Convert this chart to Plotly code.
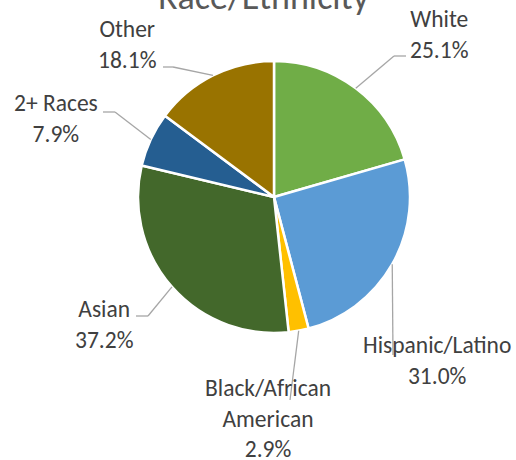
import math
import plotly.graph_objects as go

# Survey breakdown by race/ethnicity (values as reported, in %)
categories = ["White", "Hispanic/Latino", "Black/African American", "Asian", "2+ Races", "Other"]
shares = [25.1, 31.0, 2.9, 37.2, 7.9, 18.1]
label_text = ["White", "Hispanic/Latino", "Black/African<br>American", "Asian", "2+ Races", "Other"]
colors = ["#70AD47", "#5B9BD5", "#FFC000", "#43682B", "#255E91", "#997300"]

W, H = 516, 460
CX, CY, R = 274, 197, 136          # pie centre and radius in pixels
FONT = "Calibri, Carlito, Lato, sans-serif"

# label block centres (px) and the leader-line route from the slice edge to the label
label_layout = {
    "White":                  {"center": (439, 34),  "route": [(394, 56), (406, 56)]},
    "Hispanic/Latino":        {"center": (437, 360), "route": [(393, 355)]},
    "Black/African American": {"center": (268, 418), "route": [(290, 400)]},
    "Asian":                  {"center": (104, 324), "route": [(148, 316), (136, 316)]},
    "2+ Races":               {"center": (56, 119),  "route": [(115, 112), (103, 112)]},
    "Other":                  {"center": (127, 45),  "route": [(173, 67), (163, 67)]},
}


def px(x, y):
    return x / W, 1 - y / H


fig = go.Figure(
    go.Pie(
        labels=categories,
        values=shares,
        sort=False,
        direction="clockwise",
        rotation=0,
        marker=dict(colors=colors, line=dict(color="white", width=2.5)),
        textinfo="none",
        hoverinfo="label+text",
        hovertext=[f"{v:.1f}%" for v in shares],
        showlegend=False,
        domain=dict(x=[(CX - R) / W, (CX + R) / W], y=[1 - (CY + R) / H, 1 - (CY - R) / H]),
    )
)

annotations = []
shapes = []
total = sum(shares)
start = 0.0
for name, text, v in zip(categories, label_text, shares):
    sweep = v / total * 360
    mid = math.radians(start + sweep / 2)
    start += sweep
    anchor = (CX + R * math.sin(mid), CY - R * math.cos(mid))
    lay = label_layout[name]
    pts = [anchor] + lay["route"]
    for (x0, y0), (x1, y1) in zip(pts[:-1], pts[1:]):
        a0, b0 = px(x0, y0)
        a1, b1 = px(x1, y1)
        shapes.append(dict(type="line", xref="paper", yref="paper", x0=a0, y0=b0, x1=a1, y1=b1,
                           line=dict(color="#A6A6A6", width=1.3), layer="above"))
    ax, ay = px(*lay["center"])
    annotations.append(dict(
        x=ax, y=ay, xref="paper", yref="paper", xanchor="center", yanchor="middle",
        text=f"{text}<br>{v:.1f}%", showarrow=False, align="center", borderpad=0,
        font=dict(family=FONT, size=23.5, color="#404040"),
    ))

tx, ty = px(264, 21)
annotations.append(dict(
    x=tx, y=ty, xref="paper", yref="paper", xanchor="center", yanchor="bottom",
    text="Race/Ethnicity", showarrow=False,
    font=dict(family=FONT, size=36, color="#595959"),
))

fig.update_layout(
    width=W, height=H,
    margin=dict(l=0, r=0, t=0, b=0),
    paper_bgcolor="white", plot_bgcolor="white",
    annotations=annotations, shapes=shapes,
)

fig.write_html("out.html")
